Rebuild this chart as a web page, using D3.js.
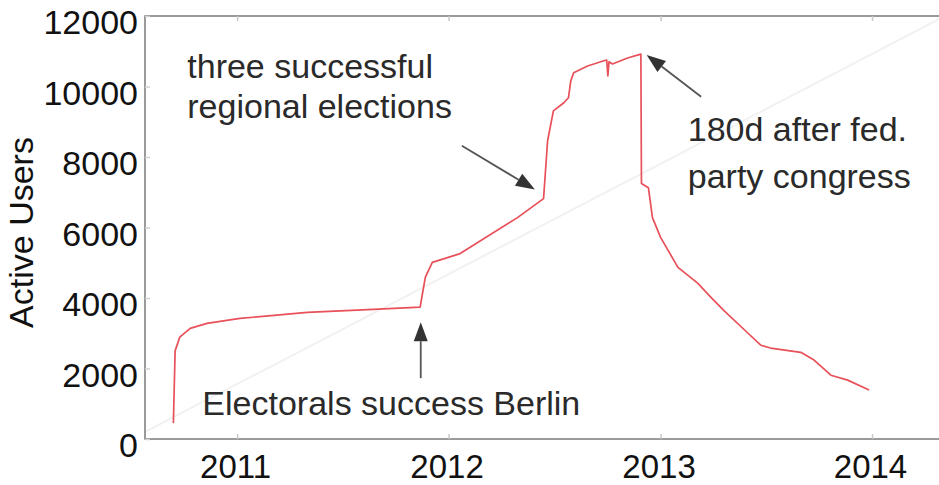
<!DOCTYPE html>
<html>
<head>
<meta charset="utf-8">
<script src="https://cdn.jsdelivr.net/npm/d3@7"></script>
<style>
  html, body { margin: 0; padding: 0; background: #fff; overflow: hidden; }
  svg { display: block; }
  text { font-family: "Liberation Sans", Arial, Helvetica, sans-serif; }
</style>
</head>
<body>
<svg id="chart" width="939" height="485"></svg>
<script>
// ---- data ----
const dates = [
  "2010-09-13","2010-09-16","2010-09-24","2010-10-12","2010-11-10","2011-01-06",
  "2011-03-01","2011-05-02","2011-08-24","2011-11-13","2011-11-18","2011-11-22",
  "2011-12-04","2012-01-21","2012-04-29","2012-06-13","2012-06-20","2012-06-30",
  "2012-07-18","2012-07-26","2012-07-30","2012-08-04","2012-08-28","2012-09-25",
  "2012-09-30","2012-10-02","2012-10-04","2012-10-10","2012-11-05","2012-11-28",
  "2012-11-29","2012-12-11","2012-12-18","2013-01-01","2013-01-31","2013-03-06",
  "2013-03-29","2013-04-20","2013-06-01","2013-06-23","2013-07-10","2013-08-31",
  "2013-09-23","2013-10-22","2013-11-20","2013-12-27"
];
const activeUsers = [
  450, 2500, 2890, 3140, 3280, 3420,
  3500, 3590, 3680, 3740, 4220, 4590,
  5010, 5260, 6280, 6820, 8460, 9310,
  9540, 9680, 10160, 10390, 10580, 10730,
  10750, 10300, 10700, 10640, 10810, 10920,
  7250, 7130, 6280, 5720, 4870, 4420,
  4020, 3650, 3000, 2660, 2580, 2460,
  2240, 1810, 1670, 1390
];
// faint diagonal reference line
const refDates = ["2010-07-26", "2014-05-07"];
const refValues = [200, 12000];

const yTicks = [0, 2000, 4000, 6000, 8000, 10000, 12000];
const xTickYears = ["2011-01-01", "2012-01-01", "2013-01-01", "2014-01-01"];
const xDomain = ["2010-07-26", "2014-05-07"];
const yDomain = [0, 12000];
const yLabel = "Active Users";

// annotations: text lines anchored at (date, value); arrows from tail to tip
const annTexts = [
  { date: "2010-10-07", value: 10246, text: "three successful" },
  { date: "2010-10-07", value: 9114,  text: "regional elections" },
  { date: "2013-02-17", value: 8463,  text: "180d after fed." },
  { date: "2013-02-17", value: 7133,  text: "party congress" },
  { date: "2010-11-02", value: 679,   text: "Electorals success Berlin" }
];
const annArrows = [
  { fromDate: "2012-01-24", fromValue: 8321, toDate: "2012-05-29", toValue: 7076 },
  { fromDate: "2013-03-12", fromValue: 9708, toDate: "2012-12-08", toValue: 10897 },
  { fromDate: "2011-11-14", fromValue: 1726, toDate: "2011-11-14", toValue: 3311 }
];

// ---- drawing ----
(function () {
const parse = d3.utcParse("%Y-%m-%d");
const svg = d3.select("#chart");
const mLeft = 145, mTop = 16, mBottom = 439, mRight = 945;

const x = d3.scaleUtc().domain(xDomain.map(parse)).range([mLeft, mRight]);
const y = d3.scaleLinear().domain(yDomain).range([mBottom, mTop]);

const series = dates.map((d, i) => ({ date: parse(d), value: activeUsers[i] }));
const ref = refDates.map((d, i) => ({ date: parse(d), value: refValues[i] }));

const line = d3.line().x(d => x(d.date)).y(d => y(d.value));

// reference diagonal (very faint)
svg.append("path").datum(ref)
  .attr("d", line)
  .attr("fill", "none")
  .attr("stroke", "#f1f1f1")
  .attr("stroke-width", 2);

// frame
svg.append("rect")
  .attr("x", mLeft).attr("y", mTop)
  .attr("width", mRight - mLeft).attr("height", mBottom - mTop)
  .attr("fill", "none").attr("stroke", "#7a7a7a").attr("stroke-width", 1.5);

const fontFam = '"Liberation Sans", Arial, Helvetica, sans-serif';

// bottom axis
const xAxis = d3.axisBottom(x)
  .tickValues(xTickYears.map(parse))
  .tickFormat(d3.utcFormat("%Y"))
  .tickSizeInner(-5).tickSizeOuter(0);
const gx = svg.append("g").attr("transform", `translate(0,${mBottom})`).call(xAxis);
gx.select(".domain").remove();
gx.selectAll(".tick line").attr("stroke", "#c8c8c8").attr("stroke-width", 1.5);
gx.selectAll(".tick text")
  .attr("y", 39).attr("dy", 0).attr("dx", -2)
  .attr("fill", "#111").style("font-size", "33px")
  .style("font-family", fontFam);

// top ticks
const gxTop = svg.append("g").attr("transform", `translate(0,${mTop})`)
  .call(d3.axisTop(x).tickValues(xTickYears.map(parse)).tickFormat("").tickSizeInner(-5).tickSizeOuter(0));
gxTop.select(".domain").remove();
gxTop.selectAll(".tick line").attr("stroke", "#c8c8c8").attr("stroke-width", 1.5);

// left axis
const yAxis = d3.axisLeft(y).tickValues(yTicks).tickFormat(d3.format("d"))
  .tickSizeInner(-5).tickSizeOuter(0);
const gy = svg.append("g").attr("transform", `translate(${mLeft},0)`).call(yAxis);
gy.select(".domain").remove();
gy.selectAll(".tick line").attr("stroke", "#d0d0d0").attr("stroke-width", 1.5);
gy.selectAll(".tick text")
  .attr("x", -7).attr("dy", 17.5)
  .attr("fill", "#111").style("font-size", "34px")
  .style("font-family", fontFam);

// y label
svg.append("text")
  .attr("transform", `translate(33,${(mTop + mBottom) / 2 + 5}) rotate(-90)`)
  .attr("text-anchor", "middle")
  .attr("fill", "#111")
  .style("font-size", "34px")
  .text(yLabel);

// data line
svg.append("path").datum(series)
  .attr("d", line)
  .attr("fill", "none")
  .attr("stroke", "#e8505a")
  .attr("stroke-width", 1.7)
  .attr("stroke-linejoin", "round");

// annotation arrows
const arrowG = svg.append("g");
annArrows.forEach(a => {
  const x1 = x(parse(a.fromDate)), y1 = y(a.fromValue);
  const x2 = x(parse(a.toDate)), y2 = y(a.toValue);
  const ang = Math.atan2(y2 - y1, x2 - x1);
  const len = 19, hw = 7;
  const bx = x2 - len * Math.cos(ang), by = y2 - len * Math.sin(ang);
  arrowG.append("line")
    .attr("x1", x1).attr("y1", y1).attr("x2", bx).attr("y2", by)
    .attr("stroke", "#555").attr("stroke-width", 1.8);
  const px = -Math.sin(ang) * hw, py = Math.cos(ang) * hw;
  arrowG.append("path")
    .attr("d", `M${x2},${y2}L${bx + px},${by + py}L${bx - px},${by - py}Z`)
    .attr("fill", "#333");
});

// annotation texts
svg.append("g").selectAll("text").data(annTexts).join("text")
  .attr("x", d => x(parse(d.date)))
  .attr("y", d => y(d.value))
  .attr("fill", "#2a2a2a")
  .style("font-size", "34px")
  .text(d => d.text);
})();
</script>
</body>
</html>
